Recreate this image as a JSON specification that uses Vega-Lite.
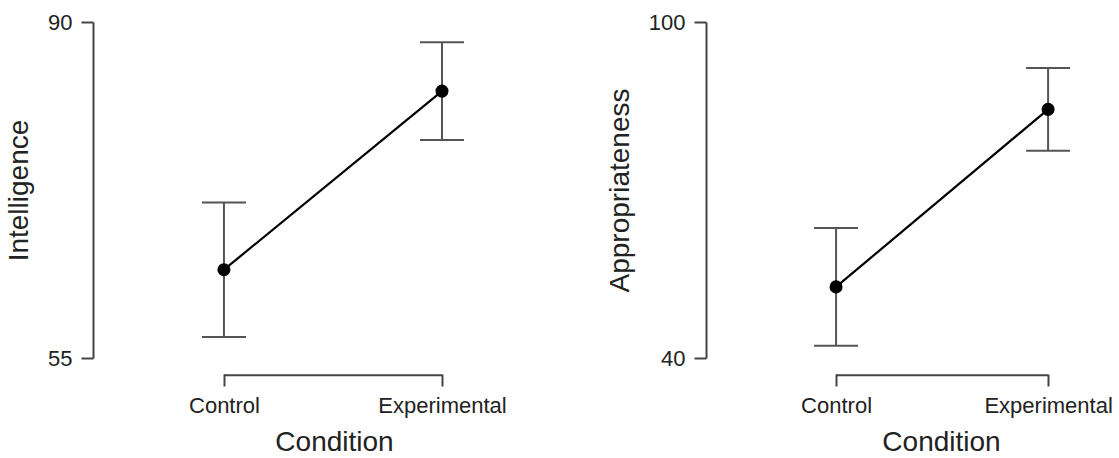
{
  "$schema": "https://vega.github.io/schema/vega-lite/v6.json",
  "padding": {"left": 5, "top": 11, "right": 0, "bottom": 0},
  "background": "white",
  "spacing": 73,
  "config": {
    "view": {"stroke": null},
    "axis": {"grid": false, "domainColor": "#444", "domainWidth": 2, "tickColor": "#444", "tickWidth": 2, "tickSize": 12, "labelColor": "#222", "titleColor": "#222", "labelPadding": 9, "titleFontWeight": "normal", "labelFont": "Liberation Sans", "titleFont": "Liberation Sans", "labelFontSize": 22, "titleFontSize": 28},
    "axisX": {"domain": false, "offset": 16, "titlePadding": 12, "labelAngle": 0},
    "axisY": {"titlePadding": 14}
  },
  "datasets": {
    "intel": [
      {"condition": "Control", "mean": 64.2, "lo": 57.2, "hi": 71.2},
      {"condition": "Experimental", "mean": 82.8, "lo": 77.7, "hi": 87.9}
    ],
    "approp": [
      {"condition": "Control", "mean": 52.7, "lo": 42.2, "hi": 63.2},
      {"condition": "Experimental", "mean": 84.4, "lo": 77.0, "hi": 91.8}
    ]
  },
  "hconcat": [
    {
      "width": 440, "height": 336,
      "data": {"name": "intel"},
      "encoding": {
        "x": {"field": "condition", "type": "nominal", "sort": ["Control", "Experimental"], "title": "Condition", "scale": {"type": "point", "padding": 0.509, "align": 0.59}, "axis": {"titleX": 241}}
      },
      "layer": [
        {"mark": {"type": "rule", "color": "#555", "strokeWidth": 2},
         "encoding": {"y": {"field": "lo", "type": "quantitative", "title": "Intelligence", "scale": {"domain": [55, 90], "nice": false, "zero": false}, "axis": {"values": [55, 90]}}, "y2": {"field": "hi"}}},
        {"mark": {"type": "tick", "color": "#555", "size": 44, "thickness": 2, "opacity": 1},
         "encoding": {"y": {"field": "lo", "type": "quantitative", "title": "Intelligence"}}},
        {"mark": {"type": "tick", "color": "#555", "size": 44, "thickness": 2, "opacity": 1},
         "encoding": {"y": {"field": "hi", "type": "quantitative", "title": "Intelligence"}}},
        {"mark": {"type": "line", "color": "black", "strokeWidth": 2.2},
         "encoding": {"y": {"field": "mean", "type": "quantitative", "title": "Intelligence"}}},
        {"mark": {"type": "point", "filled": true, "color": "black", "size": 170, "opacity": 1},
         "encoding": {"y": {"field": "mean", "type": "quantitative", "title": "Intelligence"}}},
        {"mark": {"type": "line", "color": "#444", "strokeWidth": 2},
         "encoding": {"y": {"datum": 53.2}}}
      ]
    },
    {
      "width": 405, "height": 336,
      "data": {"name": "approp"},
      "encoding": {
        "x": {"field": "condition", "type": "nominal", "sort": ["Control", "Experimental"], "title": "Condition", "scale": {"type": "point", "padding": 0.455, "align": 0.674}, "axis": {"titleX": 235}}
      },
      "layer": [
        {"mark": {"type": "rule", "color": "#555", "strokeWidth": 2},
         "encoding": {"y": {"field": "lo", "type": "quantitative", "title": "Appropriateness", "scale": {"domain": [40, 100], "nice": false, "zero": false}, "axis": {"values": [40, 100]}}, "y2": {"field": "hi"}}},
        {"mark": {"type": "tick", "color": "#555", "size": 44, "thickness": 2, "opacity": 1},
         "encoding": {"y": {"field": "lo", "type": "quantitative", "title": "Appropriateness"}}},
        {"mark": {"type": "tick", "color": "#555", "size": 44, "thickness": 2, "opacity": 1},
         "encoding": {"y": {"field": "hi", "type": "quantitative", "title": "Appropriateness"}}},
        {"mark": {"type": "line", "color": "black", "strokeWidth": 2.2},
         "encoding": {"y": {"field": "mean", "type": "quantitative", "title": "Appropriateness"}}},
        {"mark": {"type": "point", "filled": true, "color": "black", "size": 170, "opacity": 1},
         "encoding": {"y": {"field": "mean", "type": "quantitative", "title": "Appropriateness"}}},
        {"mark": {"type": "line", "color": "#444", "strokeWidth": 2},
         "encoding": {"y": {"datum": 36.9}}}
      ]
    }
  ]
}
